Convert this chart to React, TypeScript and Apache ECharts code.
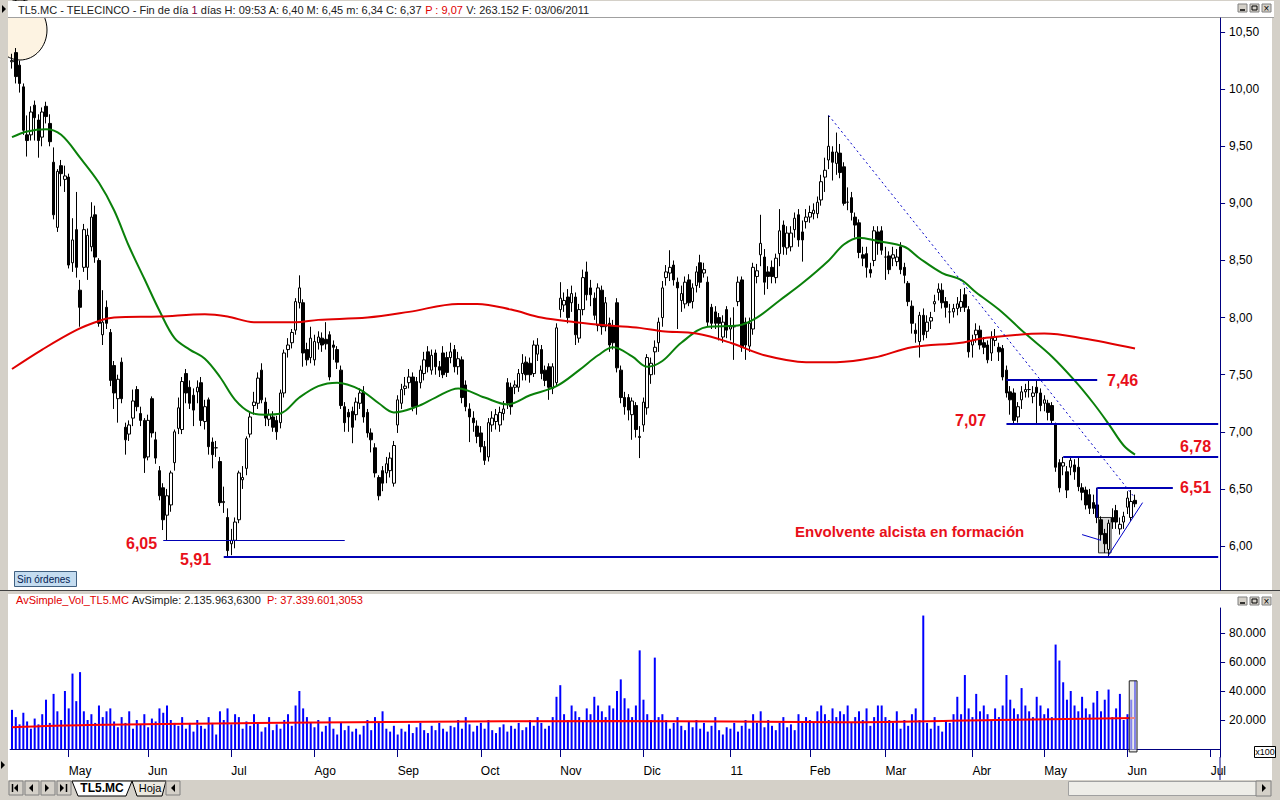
import React, { useEffect, useRef } from 'react';
import * as echarts from 'echarts';

const FONT = '"Liberation Sans", Arial, sans-serif';
const N_CATS = 320;
const HOLIDAYS = ['2011-04-22', '2011-04-25'];
const MONTHS = ['11', 'Feb', 'Mar', 'Abr', 'May', 'Jun', 'Jul', 'Ago', 'Sep', 'Oct', 'Nov', 'Dic'];

// [open, close, low, high] per trading day, 12/04/2010 .. 03/06/2011
const prices: number[][] = [
  [10.24, 10.25, 10.18, 10.31], [10.32, 10.11, 10.05, 10.36], [10.21, 10.05, 9.97, 10.25], [10.02, 9.64, 9.6, 10.05], [9.6, 9.55, 9.41, 9.77],
  [9.6, 9.8, 9.55, 9.85], [9.86, 9.75, 9.55, 9.9], [9.73, 9.55, 9.4, 9.78], [9.58, 9.8, 9.5, 9.84], [9.85, 9.76, 9.7, 9.89],
  [9.7, 9.54, 9.5, 9.78], [9.36, 8.9, 8.86, 9.49], [8.79, 9.28, 8.75, 9.3], [9.33, 9.26, 9.15, 9.38], [9.21, 9.24, 9.1, 9.33],
  [9.23, 8.46, 8.43, 9.26], [8.48, 8.68, 8.4, 8.87], [8.77, 8.44, 8.35, 9.1], [8.24, 8.09, 7.92, 8.33], [8.44, 8.77, 8.4, 8.82],
  [8.44, 8.72, 8.33, 8.78], [8.62, 8.88, 8.58, 9.01], [8.9, 8.53, 8.48, 8.98], [8.5, 7.95, 7.92, 8.52], [7.85, 7.96, 7.76, 8.24],
  [8.09, 7.95, 7.9, 8.15], [7.87, 7.45, 7.4, 7.9], [7.58, 7.34, 7.2, 7.62], [7.29, 7.46, 7.08, 7.5], [7.61, 7.29, 7.25, 7.65],
  [7.04, 6.93, 6.8, 7.08], [6.98, 7.06, 6.92, 7.1], [7.12, 7.27, 7.05, 7.37], [7.37, 7.22, 7.18, 7.4], [7.16, 7.1, 7.05, 7.22],
  [7.1, 6.77, 6.64, 7.12], [6.78, 7.1, 6.75, 7.15], [7.29, 6.99, 6.95, 7.31], [6.93, 6.77, 6.72, 7.0], [6.66, 6.44, 6.4, 6.7],
  [6.51, 6.23, 6.14, 6.55], [6.27, 6.44, 6.05, 6.5], [6.36, 6.64, 6.3, 6.66], [6.73, 7.0, 6.66, 7.02], [7.03, 7.21, 6.98, 7.3],
  [7.02, 7.44, 6.98, 7.48], [7.51, 7.34, 7.25, 7.55], [7.39, 7.25, 7.2, 7.45], [7.32, 7.19, 7.05, 7.38], [7.35, 7.39, 7.25, 7.45],
  [7.43, 7.1, 7.05, 7.48], [7.09, 7.22, 7.02, 7.28], [7.28, 6.87, 6.8, 7.3], [6.91, 6.8, 6.68, 6.95], [6.86, 6.86, 6.78, 6.92],
  [6.74, 6.38, 6.35, 6.78], [6.38, 6.39, 6.29, 6.52], [6.25, 5.96, 5.91, 6.33], [6.02, 6.05, 5.92, 6.15], [6.05, 6.21, 5.98, 6.25],
  [6.23, 6.64, 6.2, 6.66], [6.58, 6.6, 6.5, 6.7], [6.68, 6.94, 6.62, 6.96], [6.98, 7.13, 6.95, 7.18], [7.23, 7.26, 7.15, 7.35],
  [7.25, 7.47, 7.2, 7.52], [7.54, 7.28, 7.25, 7.6], [7.26, 7.12, 7.05, 7.3], [7.11, 7.15, 7.05, 7.2], [7.13, 7.04, 7.0, 7.18],
  [7.1, 7.0, 6.93, 7.14], [7.08, 7.34, 7.03, 7.37], [7.34, 7.69, 7.3, 7.72], [7.72, 7.76, 7.65, 7.82], [7.78, 7.87, 7.73, 7.9],
  [7.89, 8.14, 7.85, 8.17], [8.13, 8.26, 8.08, 8.37], [8.13, 7.69, 7.57, 8.16], [7.72, 7.63, 7.58, 7.78], [7.65, 7.82, 7.6, 7.92],
  [7.63, 7.79, 7.58, 7.85], [7.78, 7.83, 7.72, 7.88], [7.82, 7.76, 7.7, 7.87], [7.81, 7.77, 7.72, 7.96], [7.85, 7.48, 7.45, 7.88],
  [7.76, 7.74, 7.63, 7.8], [7.72, 7.61, 7.55, 7.75], [7.54, 7.23, 7.2, 7.58], [7.22, 7.08, 7.0, 7.26], [7.17, 7.13, 7.0, 7.2],
  [7.18, 7.04, 6.9, 7.22], [7.15, 7.26, 7.1, 7.3], [7.25, 7.34, 7.2, 7.38], [7.35, 7.13, 7.08, 7.4], [7.17, 6.99, 6.95, 7.2],
  [6.99, 6.93, 6.82, 7.03], [6.86, 6.64, 6.6, 6.9], [6.6, 6.44, 6.4, 6.62], [6.66, 6.55, 6.48, 6.7], [6.64, 6.72, 6.55, 6.78],
  [6.66, 6.77, 6.6, 6.82], [6.55, 6.88, 6.52, 6.92], [7.06, 7.28, 6.99, 7.32], [7.25, 7.37, 7.2, 7.42], [7.38, 7.4, 7.32, 7.48],
  [7.43, 7.48, 7.38, 7.55], [7.48, 7.22, 7.18, 7.52], [7.44, 7.22, 7.15, 7.48], [7.43, 7.54, 7.38, 7.58], [7.51, 7.63, 7.45, 7.7],
  [7.7, 7.57, 7.52, 7.75], [7.54, 7.67, 7.5, 7.72], [7.69, 7.57, 7.5, 7.72], [7.57, 7.54, 7.48, 7.62], [7.69, 7.5, 7.47, 7.75],
  [7.65, 7.52, 7.48, 7.7], [7.65, 7.7, 7.6, 7.78], [7.72, 7.57, 7.52, 7.76], [7.57, 7.64, 7.5, 7.7], [7.63, 7.3, 7.25, 7.66],
  [7.41, 7.22, 7.18, 7.45], [7.2, 7.13, 6.91, 7.25], [7.12, 7.08, 7.0, 7.18], [7.05, 6.96, 6.9, 7.1], [6.99, 6.87, 6.82, 7.05],
  [6.87, 6.75, 6.71, 6.92], [6.78, 7.08, 6.74, 7.12], [7.06, 7.12, 7.0, 7.18], [7.09, 7.15, 7.02, 7.2], [7.06, 7.17, 7.0, 7.22],
  [7.16, 7.2, 7.1, 7.27], [7.43, 7.25, 7.2, 7.47], [7.39, 7.22, 7.15, 7.43], [7.39, 7.41, 7.33, 7.45], [7.39, 7.51, 7.35, 7.55],
  [7.51, 7.6, 7.45, 7.68], [7.61, 7.5, 7.45, 7.66], [7.6, 7.5, 7.43, 7.65], [7.51, 7.76, 7.48, 7.8], [7.68, 7.76, 7.62, 7.82],
  [7.72, 7.51, 7.46, 7.76], [7.54, 7.45, 7.4, 7.58], [7.57, 7.39, 7.28, 7.6], [7.38, 7.57, 7.33, 7.6], [7.43, 7.91, 7.4, 7.95],
  [8.07, 8.17, 8.0, 8.31], [8.11, 8.15, 8.05, 8.22], [8.18, 8.0, 7.95, 8.25], [8.13, 8.21, 8.05, 8.28], [8.18, 7.85, 7.76, 8.22],
  [7.82, 8.07, 7.78, 8.12], [8.07, 8.35, 8.02, 8.42], [8.4, 8.2, 8.15, 8.49], [8.26, 8.2, 8.1, 8.33], [8.17, 8.02, 7.98, 8.22],
  [7.93, 8.26, 7.88, 8.3], [8.24, 7.92, 7.85, 8.28], [7.92, 8.13, 7.88, 8.18], [7.95, 7.76, 7.7, 8.0], [7.93, 7.78, 7.72, 7.98],
  [8.13, 7.56, 7.52, 8.17], [7.54, 7.3, 7.25, 7.58], [7.3, 7.22, 7.15, 7.35], [7.3, 7.19, 7.1, 7.33], [7.15, 7.27, 6.93, 7.3],
  [7.23, 7.02, 6.95, 7.26], [6.95, 6.96, 6.77, 7.05], [7.06, 7.26, 7.0, 7.3], [7.21, 7.65, 7.15, 7.68], [7.5, 7.6, 7.42, 7.65],
  [7.7, 7.74, 7.5, 7.8], [7.78, 7.96, 7.7, 8.0], [8.0, 8.26, 7.92, 8.32], [8.35, 8.4, 8.28, 8.46], [8.39, 8.44, 8.32, 8.59],
  [8.46, 8.33, 8.28, 8.5], [8.31, 8.26, 7.9, 8.35], [8.15, 8.21, 8.05, 8.28], [8.12, 8.31, 8.08, 8.36], [8.33, 8.13, 8.1, 8.38],
  [8.14, 8.26, 8.08, 8.3], [8.28, 8.4, 8.22, 8.45], [8.48, 8.31, 8.26, 8.55], [8.39, 8.42, 8.35, 8.48], [8.31, 7.96, 7.92, 8.36],
  [8.09, 7.95, 7.9, 8.12], [8.05, 7.95, 7.9, 8.1], [8.0, 7.95, 7.8, 8.04], [7.83, 7.96, 7.78, 8.02], [8.07, 7.89, 7.82, 8.1],
  [7.9, 7.92, 7.8, 8.0], [7.92, 7.92, 7.63, 8.09], [8.14, 8.31, 8.1, 8.36], [8.33, 7.74, 7.7, 8.36], [7.96, 7.76, 7.63, 8.0],
  [7.75, 7.95, 7.7, 8.0], [7.9, 8.44, 7.85, 8.48], [8.36, 8.41, 8.3, 8.47], [8.55, 8.65, 8.45, 8.9], [8.53, 8.31, 8.2, 8.6],
  [8.4, 8.36, 8.25, 8.45], [8.44, 8.36, 8.3, 8.5], [8.35, 8.52, 8.3, 8.56], [8.56, 8.76, 8.45, 8.95], [8.81, 8.62, 8.55, 8.85],
  [8.61, 8.74, 8.55, 8.8], [8.62, 8.74, 8.58, 8.8], [8.77, 8.87, 8.7, 8.92], [8.9, 8.68, 8.62, 8.95], [8.75, 8.68, 8.49, 8.85],
  [8.84, 8.88, 8.78, 8.95], [8.88, 8.92, 8.83, 8.98], [8.91, 8.94, 8.86, 9.0], [8.91, 9.01, 8.87, 9.06], [9.03, 9.19, 8.98, 9.25],
  [9.23, 9.29, 9.1, 9.4], [9.38, 9.5, 9.3, 9.77], [9.45, 9.36, 9.2, 9.5], [9.35, 9.45, 9.25, 9.62], [9.44, 9.27, 9.22, 9.52],
  [9.32, 9.0, 8.98, 9.36], [9.01, 9.01, 8.94, 9.14], [9.05, 8.92, 8.85, 9.1], [8.88, 8.81, 8.7, 8.92], [8.83, 8.57, 8.52, 8.86],
  [8.55, 8.52, 8.45, 8.62], [8.56, 8.44, 8.35, 8.62], [8.42, 8.39, 8.35, 8.48], [8.5, 8.76, 8.45, 8.8], [8.75, 8.65, 8.55, 8.8],
  [8.76, 8.59, 8.55, 8.8], [8.53, 8.53, 8.33, 8.62], [8.54, 8.42, 8.38, 8.58], [8.52, 8.55, 8.45, 8.62], [8.49, 8.53, 8.45, 8.6],
  [8.62, 8.42, 8.38, 8.66], [8.44, 8.37, 8.3, 8.48], [8.3, 8.14, 8.1, 8.32], [8.1, 7.95, 7.86, 8.15], [7.89, 7.86, 7.78, 7.95],
  [7.79, 8.02, 7.65, 8.05], [8.02, 7.85, 7.8, 8.08], [7.88, 7.96, 7.82, 8.02], [7.97, 8.0, 7.9, 8.05], [8.12, 8.14, 8.05, 8.2],
  [8.22, 8.25, 8.15, 8.3], [8.24, 8.13, 8.08, 8.3], [8.14, 8.09, 8.0, 8.18], [8.05, 8.05, 7.95, 8.12], [8.05, 8.08, 8.0, 8.12],
  [8.08, 8.12, 8.02, 8.18], [8.09, 8.14, 8.05, 8.25], [8.2, 8.09, 8.05, 8.26], [8.07, 7.7, 7.65, 8.1], [7.76, 7.8, 7.65, 7.85],
  [7.85, 7.89, 7.78, 7.95], [7.89, 7.76, 7.72, 7.93], [7.78, 7.74, 7.68, 7.83], [7.76, 7.63, 7.6, 7.8], [7.69, 7.82, 7.62, 7.88],
  [7.8, 7.83, 7.75, 7.9], [7.74, 7.7, 7.62, 7.78], [7.73, 7.48, 7.45, 7.76], [7.54, 7.34, 7.3, 7.58], [7.35, 7.28, 7.15, 7.4],
  [7.34, 7.1, 7.07, 7.38], [7.13, 7.22, 7.08, 7.26], [7.28, 7.35, 7.2, 7.4], [7.35, 7.37, 7.3, 7.42], [7.37, 7.37, 7.3, 7.46],
  [7.31, 7.34, 7.25, 7.4], [7.39, 7.34, 7.07, 7.46], [7.34, 7.23, 7.18, 7.38], [7.25, 7.28, 7.18, 7.32], [7.25, 7.17, 7.1, 7.28],
  [7.23, 7.1, 7.07, 7.26], [7.07, 6.69, 6.65, 7.08], [6.73, 6.51, 6.47, 6.76], [6.7, 6.73, 6.62, 6.78], [6.65, 6.49, 6.42, 6.7],
  [6.69, 6.75, 6.62, 6.78], [6.71, 6.65, 6.58, 6.76], [6.69, 6.52, 6.48, 6.78], [6.51, 6.47, 6.4, 6.55], [6.49, 6.36, 6.32, 6.52],
  [6.45, 6.33, 6.28, 6.5], [6.38, 6.33, 6.28, 6.45], [6.36, 6.25, 6.2, 6.51], [6.23, 6.1, 6.05, 6.26], [6.11, 6.02, 5.94, 6.15],
  [5.97, 6.2, 5.91, 6.23], [6.25, 6.21, 6.15, 6.33], [6.31, 6.21, 6.15, 6.36], [6.15, 6.19, 6.1, 6.25], [6.21, 6.26, 6.15, 6.3],
  [6.34, 6.42, 6.28, 6.48], [6.25, 6.39, 6.22, 6.49], [6.4, 6.37, 6.34, 6.45],
];

// volume, in thousands of units of x100
const volumes: number[] = [
  27, 22, 17, 25, 19, 14, 21, 17, 24, 34,
  18, 38, 26, 20, 40, 28, 52, 33, 53, 26,
  20, 24, 18, 30, 22, 26, 28, 19, 15, 22,
  18, 26, 14, 20, 17, 24, 15, 21, 19, 28,
  25, 30, 20, 18, 16, 22, 14, 18, 12, 20,
  16, 14, 22, 18, 10, 26, 20, 28, 17, 24,
  22, 14, 19, 16, 24, 18, 12, 15, 22, 13,
  17, 14, 20, 24, 16, 30, 40, 28, 22, 18,
  15, 20, 12, 16, 22, 14, 10, 18, 13, 16,
  12, 14, 10, 16, 20, 13, 22, 18, 26, 14,
  12, 16, 10, 14, 12, 17, 11, 15, 18, 13,
  11, 16, 13, 18, 14, 12, 16, 15, 20, 14,
  22, 17, 12, 16, 18, 14, 20, 13, 11, 15,
  17, 12, 16, 14, 18, 13, 15, 20, 16, 22,
  18, 14, 16, 22, 36, 44, 24, 20, 30, 26,
  22, 20, 28, 24, 36, 30, 26, 22, 30, 28,
  40, 48, 35, 28, 22, 30, 68, 34, 24, 20,
  63, 22, 24, 20, 14, 18, 22, 16, 13, 19,
  15, 20, 14, 18, 12, 16, 22, 13, 10, 15,
  14, 18, 12, 16, 20, 14, 24, 18, 26, 15,
  20, 16, 13, 18, 22, 15, 17, 13, 24, 19,
  22, 20, 18, 26, 30, 24, 20, 28, 22, 26,
  24, 30, 18, 22, 26, 20, 28, 16, 22, 30,
  30, 22, 20, 18, 26, 14, 20, 16, 24, 28,
  20, 92, 18, 14, 22, 16, 12, 20, 18, 24,
  36, 24, 51, 28, 22, 38, 26, 30, 24, 20,
  28, 22, 30, 51, 34, 28, 24, 42, 30, 26,
  22, 36, 30, 24, 28, 22, 72, 61, 46, 34,
  40, 30, 26, 36, 28, 24, 32, 40, 26, 34,
  41, 22, 28, 38, 20, 24, 34, 47,
];

// moving averages: [day index, value]
const greenMA: number[][] = [
  [0, 9.58], [4, 9.63], [9, 9.65], [13, 9.6], [18, 9.4], [23, 9.18], [27, 8.94], [31, 8.62], [35, 8.34],
  [39, 8.06], [43, 7.82], [47, 7.72], [51, 7.64], [55, 7.48], [59, 7.28], [63, 7.17], [67, 7.15], [71, 7.16], [76, 7.3], [81, 7.4],
  [86, 7.43], [92, 7.37], [97, 7.25], [101, 7.17], [107, 7.22], [112, 7.3], [118, 7.38], [125, 7.3], [131, 7.24],
  [137, 7.32], [144, 7.4], [150, 7.54], [155, 7.67], [159, 7.74], [164, 7.66], [168, 7.57], [172, 7.62],
  [177, 7.78], [184, 7.92], [192, 7.93], [197, 8.0], [203, 8.15], [209, 8.3], [216, 8.5], [220, 8.64],
  [224, 8.7], [229, 8.67], [236, 8.62], [240, 8.52], [246, 8.39], [251, 8.33], [255, 8.22], [261, 8.07],
  [268, 7.86], [275, 7.66], [281, 7.45], [286, 7.25], [290, 7.07], [294, 6.88], [297, 6.8],
];
const redMA: number[][] = [
  [0, 7.55], [8, 7.72], [17, 7.89], [23, 7.97], [27, 8.0], [39, 8.01], [51, 8.03], [57, 8.01], [64, 7.96],
  [75, 7.96], [81, 7.98], [94, 8.0], [105, 8.05], [118, 8.12], [123, 8.12], [132, 8.07], [140, 8.0], [149, 7.96],
  [158, 7.93], [166, 7.91], [172, 7.88], [181, 7.86], [190, 7.78], [199, 7.67], [210, 7.61], [218, 7.61],
  [228, 7.65], [238, 7.74], [251, 7.78], [257, 7.82], [273, 7.86], [283, 7.82], [297, 7.73],
];
const volMA: number[][] = [
  [0, 15], [20, 16.5], [60, 17.8], [100, 18.6], [160, 19.3], [220, 18.5], [260, 20], [297, 21.4],
];

const priceTicks = [6, 6.5, 7, 7.5, 8, 8.5, 9, 9.5, 10, 10.5];
const volTicks = [20, 40, 60, 80];

// annotation levels: [fromDay, toDay, price, width]
const levels: number[][] = [
  [40, 88, 6.05, 1], [56, 319, 5.91, 2], [263, 287, 7.46, 2], [263, 319, 7.07, 2], [278, 319, 6.78, 2], [287, 307, 6.51, 2],
];
const levelLabels = [
  { text: '6,05', x: 126, y: 543 }, { text: '5,91', x: 180, y: 559 }, { text: '7,46', x: 1107, y: 380 },
  { text: '7,07', x: 955, y: 420 }, { text: '6,78', x: 1180, y: 446 }, { text: '6,51', x: 1180, y: 487 },
];

function buildDates(): string[] {
  const out: string[] = [];
  const d = new Date(Date.UTC(2010, 3, 12));
  while (out.length < N_CATS) {
    const wd = d.getUTCDay();
    const iso = d.toISOString().slice(0, 10);
    if (wd !== 0 && wd !== 6 && !HOLIDAYS.includes(iso)) out.push(iso);
    d.setUTCDate(d.getUTCDate() + 1);
  }
  return out;
}

const fmtPrice = (v: number) => v.toFixed(2).replace('.', ',');

export default function App() {
  const ref = useRef<HTMLDivElement>(null);
  useEffect(() => {
    document.body.style.margin = '0';
    const el = ref.current!;
    const chart = echarts.init(el, undefined, { renderer: 'svg' });
    const dates = buildDates();
    const isMonthStart = (i: number) => i > 0 && dates[i].slice(0, 7) !== dates[i - 1].slice(0, 7);
    const monthLabel = (i: number) => {
      const m = parseInt(dates[i].slice(5, 7), 10) - 1;
      return m === 0 ? dates[i].slice(2, 4) : MONTHS[m];
    };
    const gridLeft = 10.1;
    const gridWidth = 1210;

    const markData: any[] = levels.map(([a, b, p, w]) => [
      { coord: [a, p], lineStyle: { color: '#0000b4', width: w, type: 'solid' } },
      { coord: [b, p] },
    ]);
    markData.push([{ coord: [287, 6.51], lineStyle: { color: '#0000b4', width: 1.5, type: 'solid' } }, { coord: [287, 6.25] }]);
    markData.push([{ coord: [216, 9.77], lineStyle: { color: '#0000c8', width: 1, type: [2, 3] } }, { coord: [297, 6.42] }]);
    markData.push([{ coord: [283, 6.1], lineStyle: { color: '#0000c8', width: 1, type: 'solid' } }, { coord: [288, 6.05] }]);
    markData.push([{ coord: [290, 5.92], lineStyle: { color: '#0000c8', width: 1, type: 'solid' } }, { coord: [299, 6.38] }]);

    const axisColor = '#000080';
    chart.setOption({
      animation: false,
      backgroundColor: 'transparent',
      grid: [
        { left: gridLeft, width: gridWidth, top: 18, height: 572 },
        { left: gridLeft, width: gridWidth, top: 608, height: 149 },
      ],
      xAxis: [
        { type: 'category', gridIndex: 0, data: dates, boundaryGap: true, show: false },
        {
          type: 'category', gridIndex: 1, data: dates, boundaryGap: true,
          axisLine: { show: true, lineStyle: { color: axisColor, width: 1 } },
          axisTick: { show: true, alignWithLabel: true, interval: (i: number) => isMonthStart(i), length: 8, lineStyle: { color: axisColor } },
          axisLabel: {
            show: true, interval: (i: number) => isMonthStart(i), formatter: (_v: string, i: number) => monthLabel(i),
            align: 'left', margin: 8, color: '#000', fontSize: 12, fontFamily: FONT,
          },
          splitLine: { show: false },
        },
      ],
      yAxis: [
        {
          type: 'value', gridIndex: 0, position: 'right', min: 5.615, max: 10.623, scale: true,
          axisLine: { show: true, lineStyle: { color: axisColor } },
          axisTick: { show: true, customValues: priceTicks, length: 5, lineStyle: { color: axisColor } },
          axisLabel: { customValues: priceTicks, formatter: (v: number) => fmtPrice(v), color: '#000', fontSize: 12, fontFamily: FONT, margin: 9 },
          splitLine: { show: false },
        },
        {
          type: 'value', gridIndex: 1, position: 'right', min: -5.5, max: 97.2,
          axisLine: { show: true, lineStyle: { color: axisColor } },
          axisTick: { show: true, customValues: volTicks, length: 5, lineStyle: { color: axisColor } },
          axisLabel: { customValues: volTicks, formatter: (v: number) => `${v}.000`, color: '#000', fontSize: 12, fontFamily: FONT, margin: 9 },
          splitLine: { show: false },
        },
      ],
      series: [
        {
          type: 'candlestick', xAxisIndex: 0, yAxisIndex: 0, data: prices, barWidth: 3, z: 3,
          itemStyle: { color: '#ffffff', color0: '#000000', borderColor: '#000000', borderColor0: '#000000', borderWidth: 1 },
          markLine: { silent: true, symbol: ['none', 'none'], label: { show: false }, animation: false, data: markData },
        },
        {
          type: 'line', xAxisIndex: 0, yAxisIndex: 0, data: greenMA, smooth: 0.35, showSymbol: false, z: 4,
          lineStyle: { color: '#0a800a', width: 2 },
        },
        {
          type: 'line', xAxisIndex: 0, yAxisIndex: 0, data: redMA, smooth: 0.35, showSymbol: false, z: 4,
          lineStyle: { color: '#e00000', width: 2 },
        },
        {
          type: 'bar', xAxisIndex: 1, yAxisIndex: 1, data: volumes, barWidth: 2, z: 3,
          itemStyle: { color: '#0000ff' },
        },
        {
          type: 'line', xAxisIndex: 1, yAxisIndex: 1, data: volMA, smooth: 0.35, showSymbol: false, z: 4,
          lineStyle: { color: '#ff0000', width: 2 },
        },
      ],
    });

    // pixel anchors from the library's own scales
    const pA = chart.convertToPixel({ gridIndex: 0 }, [288, 6.25]) as number[];
    const pB = chart.convertToPixel({ gridIndex: 0 }, [290, 5.94]) as number[];
    const vA = chart.convertToPixel({ gridIndex: 1 }, [296, volumes[297]]) as number[];
    const vB = chart.convertToPixel({ gridIndex: 1 }, [297, -2]) as number[];

    const G = '#d4d0c8';
    const tri = (x: number, y: number, dir: number) => ({
      type: 'polygon', z: 20,
      shape: { points: dir > 0 ? [[x, y - 4], [x + 4, y], [x, y + 4]] : [[x + 4, y - 4], [x, y], [x + 4, y + 4]] },
      style: { fill: '#000' },
    });
    const btn = (x: number, y: number, w: number, h: number) => ({
      type: 'rect', z: 19, shape: { x, y, width: w, height: h }, style: { fill: G, stroke: '#808080', lineWidth: 1 },
    });
    const winIcons = (y: number) => [
      { type: 'rect', z: 20, shape: { x: 1238, y, width: 9, height: 8 }, style: { fill: G, stroke: '#808080' } },
      { type: 'line', z: 21, shape: { x1: 1240, y1: y + 6, x2: 1245, y2: y + 6 }, style: { stroke: '#000', lineWidth: 1.5 } },
      { type: 'rect', z: 20, shape: { x: 1250, y, width: 9, height: 8 }, style: { fill: G, stroke: '#808080' } },
      { type: 'rect', z: 21, shape: { x: 1252, y: y + 2, width: 5, height: 4 }, style: { fill: 'none', stroke: '#000' } },
      { type: 'rect', z: 20, shape: { x: 1262, y, width: 9, height: 8 }, style: { fill: G, stroke: '#808080' } },
      { type: 'text', z: 21, x: 1266.5, y: y + 4, style: { text: '×', fill: '#000', fontSize: 10, fontFamily: FONT, align: 'center', verticalAlign: 'middle' } },
    ];

    const graphics: any[] = [
      // white panes
      { type: 'rect', z: -10, shape: { x: 8, y: 1, width: 1266, height: 17 }, style: { fill: '#ffffff' } },
      { type: 'rect', z: -10, shape: { x: 8, y: 18, width: 1264, height: 572 }, style: { fill: '#ffffff' } },
      { type: 'rect', z: -10, shape: { x: 8, y: 594, width: 1264, height: 186 }, style: { fill: '#ffffff' } },
      // highlight ellipse at top-left
      { type: 'ellipse', z: -9, shape: { cx: 20, cy: 30, rx: 27, ry: 30 }, style: { fill: '#fdf3e2', stroke: '#000', lineWidth: 1 } },
      // chrome covering the ellipse overflow
      { type: 'rect', z: -8, shape: { x: 0, y: 0, width: 8, height: 800 }, style: { fill: G } },
      { type: 'rect', z: -8, shape: { x: 8, y: 1, width: 1266, height: 17 }, style: { fill: '#ffffff' } },
      { type: 'line', z: -7, shape: { x1: 8, y1: 17.5, x2: 1274, y2: 17.5 }, style: { stroke: '#a0a0a0', lineWidth: 1 } },
      { type: 'rect', z: -8, shape: { x: 1272, y: 18, width: 8, height: 782 }, style: { fill: G } },
      { type: 'rect', z: -8, shape: { x: 0, y: 590, width: 1280, height: 4 }, style: { fill: G } },
      { type: 'line', z: -7, shape: { x1: 0, y1: 590.5, x2: 1280, y2: 590.5 }, style: { stroke: '#404040', lineWidth: 1 } },
      { type: 'rect', z: -8, shape: { x: 0, y: 780, width: 1280, height: 20 }, style: { fill: G } },
      // right axis continuation between panes
      { type: 'line', z: -7, shape: { x1: 1220, y1: 757, x2: 1220, y2: 780 }, style: { stroke: axisColor, lineWidth: 1 } },
      // header text
      {
        type: 'text', z: 20, x: 18, y: 10,
        style: {
          text: '{a|TL5.MC - TELECINCO - Fin de día }{b|1}{a| días H: 09:53 A: 6,40 M: 6,45 m: 6,34 C: 6,37 }{r|P : 9,07}{a| V: 263.152 F: 03/06/2011}',
          verticalAlign: 'middle', fontSize: 11, fontFamily: FONT,
          rich: {
            a: { fill: '#202020', color: '#202020', fontSize: 11, fontFamily: FONT },
            b: { fill: '#800040', color: '#800040', fontSize: 11, fontFamily: FONT },
            r: { fill: '#e00000', color: '#e00000', fontSize: 11, fontFamily: FONT },
          },
        },
      },
      tri(2, 9, 1),
      ...winIcons(4),
      // volume header
      {
        type: 'text', z: 20, x: 16, y: 600,
        style: {
          text: '{r|AvSimple_Vol_TL5.MC }{a|AvSimple: 2.135.963,6300 }{r| P: 37.339.601,3053}',
          verticalAlign: 'middle', fontSize: 11, fontFamily: FONT,
          rich: {
            a: { fill: '#202020', color: '#202020', fontSize: 11, fontFamily: FONT },
            r: { fill: '#e00000', color: '#e00000', fontSize: 11, fontFamily: FONT },
          },
        },
      },
      ...winIcons(597),
      // x100 box
      { type: 'rect', z: 20, shape: { x: 1254.5, y: 746.5, width: 21, height: 11 }, style: { fill: '#fff', stroke: '#000', lineWidth: 1 } },
      { type: 'text', z: 21, x: 1265, y: 752, style: { text: 'x100', fill: '#000', fontSize: 9, fontFamily: FONT, align: 'center', verticalAlign: 'middle' } },
      // Sin órdenes
      { type: 'rect', z: 20, shape: { x: 14.5, y: 571.5, width: 62, height: 15 }, style: { fill: '#c4dcf0', stroke: '#406080', lineWidth: 1 } },
      { type: 'text', z: 21, x: 17, y: 579.5, style: { text: 'Sin órdenes', fill: '#002050', fontSize: 10, fontFamily: FONT, verticalAlign: 'middle' } },
      // envelope box
      {
        type: 'rect', z: 1,
        shape: { x: pA[0] - 2.5, y: pA[1], width: pB[0] - pA[0] + 5, height: pB[1] - pA[1] },
        style: { fill: '#d8d8d8', stroke: '#303030', lineWidth: 1 },
      },
      // hollow last volume box
      {
        type: 'rect', z: 5,
        shape: { x: vA[0] - 2, y: vA[1], width: vB[0] - vA[0] + 4, height: vB[1] - vA[1] },
        style: { fill: 'rgba(220,220,220,0.6)', stroke: '#202020', lineWidth: 1 },
      },
      // annotation texts
      ...levelLabels.map((l) => ({
        type: 'text', z: 20, x: l.x, y: l.y,
        style: { text: l.text, fill: '#e8101a', fontSize: 16, fontWeight: 'bold', fontFamily: FONT, verticalAlign: 'middle' },
      })),
      {
        type: 'text', z: 20, x: 795, y: 531,
        style: { text: 'Envolvente alcista en formación', fill: '#e8101a', fontSize: 15, fontWeight: 'bold', fontFamily: FONT, verticalAlign: 'middle' },
      },
      // bottom tab bar
      tri(1, 765, 1),
      btn(9, 781, 14, 14), { type: 'line', z: 21, shape: { x1: 12.5, y1: 784, x2: 12.5, y2: 792 }, style: { stroke: '#000', lineWidth: 1.5 } }, tri(14, 788, -1),
      btn(25, 781, 14, 14), tri(29, 788, -1),
      btn(41, 781, 14, 14), tri(45, 788, 1),
      btn(57, 781, 14, 14), tri(60, 788, 1), { type: 'line', z: 21, shape: { x1: 66.5, y1: 784, x2: 66.5, y2: 792 }, style: { stroke: '#000', lineWidth: 1.5 } },
      { type: 'polygon', z: 19, shape: { points: [[72, 781], [78, 796], [126, 796], [132, 781]] }, style: { fill: '#ffffff', stroke: '#000', lineWidth: 1 } },
      { type: 'text', z: 21, x: 102, y: 788, style: { text: 'TL5.MC', fill: '#000', fontSize: 12, fontWeight: 'bold', fontFamily: FONT, align: 'center', verticalAlign: 'middle' } },
      { type: 'polygon', z: 18, shape: { points: [[132, 781], [137, 796], [162, 796], [166, 781]] }, style: { fill: '#ece9e0', stroke: '#000', lineWidth: 1 } },
      { type: 'text', z: 21, x: 150, y: 788, style: { text: 'Hoja', fill: '#000', fontSize: 11, fontFamily: FONT, align: 'center', verticalAlign: 'middle' } },
      btn(166, 781, 14, 14), tri(171, 788, -1),
      { type: 'rect', z: 18, shape: { x: 1068.5, y: 781.5, width: 188, height: 14 }, style: { fill: '#eeede8', stroke: '#a0a0a0', lineWidth: 1 } },
      btn(1256, 781, 15, 15), tri(1262, 788, 1),
    ];
    chart.setOption({ graphic: graphics });

    return () => chart.dispose();
  }, []);

  return <div ref={ref} style={{ width: 1280, height: 800, background: '#d4d0c8' }} />;
}
